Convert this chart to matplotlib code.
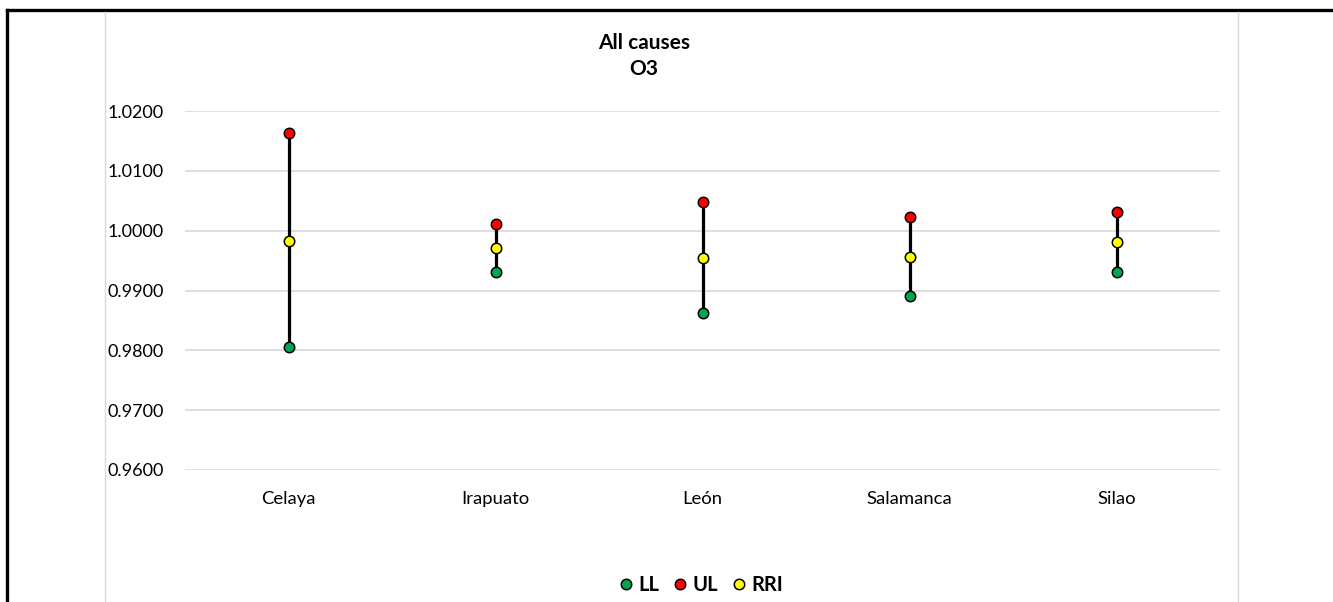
import matplotlib.pyplot as plt
from matplotlib.lines import Line2D
import numpy as np

plt.rcParams['font.family'] = ['Lato', 'DejaVu Sans']

# Data
cities = ["Celaya", "Irapuato", "León", "Salamanca", "Silao"]
ll = [0.98055, 0.99308, 0.98625, 0.98916, 0.99312]
ul = [1.01625, 1.00117, 1.00480, 1.00224, 1.00317]
rri = [0.99826, 0.99705, 0.99548, 0.99563, 0.99816]
yticks = [0.96, 0.97, 0.98, 0.99, 1.00, 1.01, 1.02]

W, H = 1333, 602
fig = plt.figure(figsize=(W / 100, H / 100), dpi=100)

# sheet border (black) and chart area border (light grey)
fig.add_artist(Line2D([7 / W, 1], [1 - 10 / H, 1 - 10 / H], color='black', lw=2.4, transform=fig.transFigure))
fig.add_artist(Line2D([7 / W, 7 / W], [0, 1 - 10 / H], color='black', lw=2.4, transform=fig.transFigure))
for xb in (105, 1238):
    fig.add_artist(Line2D([xb / W, xb / W], [0, 1 - 12 / H], color='#d9d9d9', lw=1, transform=fig.transFigure))

ax = fig.add_axes([185 / W, 1 - 470 / H, (1220 - 185) / W, (470 - 111) / H])

x = np.arange(len(cities))
ax.vlines(x, ll, ul, color='black', lw=2.3, zorder=2)
mk = dict(marker='o', ms=7.5, mec='black', mew=1.1, ls='none', zorder=3)
ax.plot(x, ll, mfc='#00a650', label='LL', **mk)
ax.plot(x, ul, mfc='#ff0000', label='UL', **mk)
ax.plot(x, rri, mfc='#ffff00', label='RRI', **mk)

ax.set_xlim(-0.5, len(cities) - 0.5)
ax.set_ylim(0.96, 1.02)
ax.set_yticks(yticks)
ax.set_yticklabels([f"{v:.4f}" for v in yticks], fontsize=13)
ax.set_xticks(x)
ax.set_xticklabels(cities, fontsize=13.3)
ax.tick_params(length=0)
ax.tick_params(axis='y', pad=56)
ax.tick_params(axis='x', pad=15)
for lab in ax.get_yticklabels():
    lab.set_horizontalalignment('left')
ax.grid(axis='y', color='#d9d9d9', lw=1.2)
ax.set_axisbelow(True)
for s in ax.spines.values():
    s.set_visible(False)

fig.text(644 / W, 1 - 43 / H, "All causes", ha='center', va='center', fontsize=15, fontweight='bold')
fig.text(644 / W, 1 - 69 / H, "O3", ha='center', va='center', fontsize=15, fontweight='bold')

fig.legend(loc='center', bbox_to_anchor=(699 / W, 1 - 585 / H), ncol=3, frameon=False,
           prop={'weight': 'bold', 'size': 14.5}, handletextpad=0.05, columnspacing=0.5,
           handlelength=1.1)

fig.savefig("out.png", dpi=100, facecolor='white')
